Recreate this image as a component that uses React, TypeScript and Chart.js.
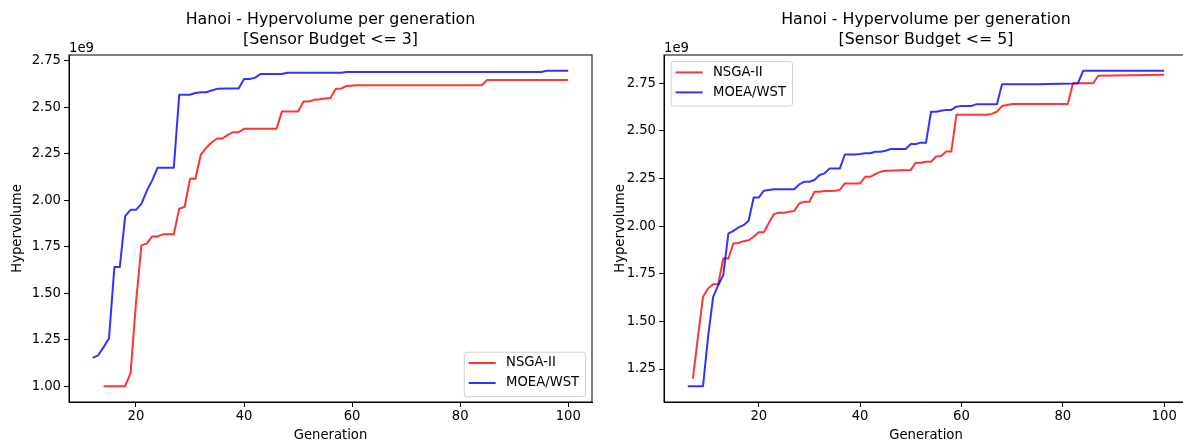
import React, { useEffect, useRef } from 'react';
import { Chart, registerables } from 'chart.js';

Chart.register(...registerables);

const FONT = "'DejaVu Sans', sans-serif";

// ---- Data (hypervolume in units of 1e9) ----
// Sensor Budget <= 3
const b3NsgaGen = [14, 18, 19, 20, 21, 22, 23, 24, 25, 27, 28, 29, 30, 31, 32, 33, 34, 35, 36, 37, 38, 39, 40, 46, 47, 50, 51, 52, 53, 54, 55, 56, 57, 58, 59, 61, 84, 85, 100];
const b3NsgaHv = [1.0, 1.0, 1.072, 1.45, 1.757, 1.766, 1.805, 1.805, 1.816, 1.816, 1.954, 1.963, 2.115, 2.115, 2.245, 2.281, 2.31, 2.331, 2.331, 2.351, 2.365, 2.365, 2.383, 2.383, 2.476, 2.476, 2.53, 2.53, 2.539, 2.542, 2.546, 2.549, 2.598, 2.6, 2.614, 2.617, 2.617, 2.646, 2.646];
const b3MoeaGen = [12, 13, 14, 15, 16, 17, 18, 19, 20, 21, 22, 23, 24, 27, 28, 30, 31, 32, 33, 34, 35, 37, 39, 40, 41, 42, 43, 47, 48, 58, 59, 95, 96, 100];
const b3MoeaHv = [1.152, 1.166, 1.21, 1.256, 1.64, 1.64, 1.914, 1.948, 1.948, 1.98, 2.05, 2.106, 2.174, 2.174, 2.566, 2.566, 2.576, 2.58, 2.58, 2.589, 2.598, 2.6, 2.6, 2.651, 2.651, 2.657, 2.678, 2.678, 2.685, 2.685, 2.689, 2.689, 2.695, 2.695];

// Sensor Budget <= 5
const b5NsgaGen = [7, 8, 9, 10, 11, 12, 13, 14, 15, 16, 17, 18, 19, 20, 21, 22, 23, 24, 25, 26, 27, 28, 29, 30, 31, 32, 33, 34, 35, 36, 37, 40, 41, 42, 43, 44, 45, 50, 51, 52, 53, 54, 55, 56, 57, 58, 59, 65, 66, 67, 68, 69, 70, 81, 82, 86, 87, 100];
const b5NsgaHv = [1.2, 1.42, 1.629, 1.673, 1.695, 1.695, 1.83, 1.83, 1.909, 1.912, 1.921, 1.926, 1.944, 1.968, 1.968, 2.017, 2.063, 2.07, 2.07, 2.075, 2.08, 2.119, 2.128, 2.128, 2.18, 2.18, 2.184, 2.184, 2.186, 2.19, 2.224, 2.224, 2.259, 2.259, 2.273, 2.285, 2.29, 2.295, 2.333, 2.333, 2.338, 2.338, 2.365, 2.368, 2.391, 2.391, 2.584, 2.584, 2.589, 2.601, 2.63, 2.636, 2.641, 2.641, 2.75, 2.75, 2.789, 2.794];
const b5MoeaGen = [6, 9, 10, 11, 12, 13, 14, 15, 16, 17, 18, 19, 20, 21, 22, 23, 27, 28, 29, 30, 31, 32, 33, 34, 36, 37, 39, 40, 41, 42, 43, 44, 45, 46, 49, 50, 51, 52, 53, 54, 55, 56, 57, 58, 59, 60, 62, 63, 67, 68, 75, 82, 83, 84, 100];
const b5MoeaHv = [1.16, 1.16, 1.42, 1.629, 1.69, 1.743, 1.96, 1.975, 1.993, 2.005, 2.028, 2.15, 2.15, 2.186, 2.19, 2.194, 2.194, 2.219, 2.233, 2.233, 2.242, 2.268, 2.277, 2.303, 2.303, 2.376, 2.376, 2.378, 2.382, 2.382, 2.39, 2.39, 2.395, 2.405, 2.405, 2.431, 2.431, 2.438, 2.438, 2.6, 2.6, 2.605, 2.61, 2.61, 2.627, 2.631, 2.631, 2.64, 2.64, 2.745, 2.745, 2.748, 2.75, 2.815, 2.815];

// Ticks
const xTickValues = [20, 40, 60, 80, 100];
const b3YTickValues = [1.0, 1.25, 1.5, 1.75, 2.0, 2.25, 2.5, 2.75];
const b5YTickValues = [1.25, 1.5, 1.75, 2.0, 2.25, 2.5, 2.75];

// Labels
const seriesLabels = ['NSGA-II', 'MOEA/WST'];
const titleLine1 = 'Hanoi - Hypervolume per generation';
const b3TitleLine2 = '[Sensor Budget <= 3]';
const b5TitleLine2 = '[Sensor Budget <= 5]';
const xAxisLabel = 'Generation';
const yAxisLabel = 'Hypervolume';
const offsetLabel = '1e9';

const RED = 'rgba(255,0,0,0.8)';
const BLUE = 'rgba(0,0,255,0.8)';
const FS = 13.2;

const mplPlugin = {
  id: 'mpl',
  afterDraw(chart: any, _args: any, opts: any) {
    const { ctx, chartArea: a } = chart;
    ctx.save();
    // spines
    ctx.strokeStyle = '#000';
    ctx.lineWidth = 1;
    ctx.strokeRect(a.left, a.top, a.right - a.left, a.bottom - a.top);
    // offset text
    ctx.font = `${FS}px ${FONT}`;
    ctx.fillStyle = '#000';
    ctx.textAlign = 'left';
    ctx.textBaseline = 'alphabetic';
    ctx.fillText(offsetLabel, a.left, a.top - 3.3);
    // legend
    const ds = chart.data.datasets;
    const tw = Math.max(...ds.map((d: any) => ctx.measureText(d.label).width));
    const padL = 4.4, handle = 27, gap = 10.4, padR = 6.5;
    const w = padL + handle + gap + tw + padR;
    const h = 44.5;
    let x: number, y: number;
    if (opts.loc === 'lower right') {
      x = a.right - 6.4 - w;
      y = a.bottom - 5.3 - h;
    } else {
      x = a.left + 7.2;
      y = a.top + 6.6;
    }
    const r = 2.6;
    ctx.beginPath();
    ctx.moveTo(x + r, y);
    ctx.lineTo(x + w - r, y);
    ctx.arcTo(x + w, y, x + w, y + r, r);
    ctx.lineTo(x + w, y + h - r);
    ctx.arcTo(x + w, y + h, x + w - r, y + h, r);
    ctx.lineTo(x + r, y + h);
    ctx.arcTo(x, y + h, x, y + h - r, r);
    ctx.lineTo(x, y + r);
    ctx.arcTo(x, y, x + r, y, r);
    ctx.closePath();
    ctx.fillStyle = 'rgba(255,255,255,0.8)';
    ctx.fill();
    ctx.strokeStyle = '#d0d0d0';
    ctx.lineWidth = 1;
    ctx.stroke();
    ds.forEach((d: any, i: number) => {
      const cy = y + 10.8 + i * 20;
      ctx.beginPath();
      ctx.moveTo(x + padL, cy);
      ctx.lineTo(x + padL + handle, cy);
      ctx.strokeStyle = d.borderColor;
      ctx.lineWidth = 2;
      ctx.stroke();
      ctx.fillStyle = '#000';
      ctx.textBaseline = 'middle';
      ctx.fillText(d.label, x + padL + handle + gap, cy);
    });
    ctx.restore();
  },
};

type Props = {
  left: number;
  width: number;
  title2: string;
  nsgaGen: number[];
  nsgaHv: number[];
  moeaGen: number[];
  moeaHv: number[];
  xMin: number;
  xMax: number;
  yMin: number;
  yMax: number;
  yTicks: number[];
  yAxisWidth: number;
  padRight: number;
  yTitlePad: number;
  legendLoc: string;
};

function HvChart(p: Props) {
  const ref = useRef<HTMLCanvasElement>(null);
  useEffect(() => {
    const zeroPad = (s: any) => {
      s.paddingTop = 0;
      s.paddingBottom = 0;
      s.paddingLeft = 0;
      s.paddingRight = 0;
    };
    const tickFont = { family: FONT, size: FS };
    const gridOpts = {
      display: true,
      drawOnChartArea: false,
      drawTicks: true,
      tickLength: 5,
      color: '#000',
      tickColor: '#000',
      lineWidth: 1,
    };
    const chart = new Chart(ref.current as HTMLCanvasElement, {
      type: 'line',
      data: {
        datasets: [
          {
            label: seriesLabels[0],
            data: p.nsgaGen.map((g, i) => ({ x: g, y: p.nsgaHv[i] })),
            borderColor: RED,
            backgroundColor: RED,
            borderWidth: 2,
            pointRadius: 0,
            tension: 0,
            fill: false,
            borderJoinStyle: 'round',
            order: 1,
          },
          {
            label: seriesLabels[1],
            data: p.moeaGen.map((g, i) => ({ x: g, y: p.moeaHv[i] })),
            borderColor: BLUE,
            backgroundColor: BLUE,
            borderWidth: 2,
            pointRadius: 0,
            tension: 0,
            fill: false,
            borderJoinStyle: 'round',
            order: 0,
          },
        ],
      },
      options: {
        responsive: false,
        animation: false,
        devicePixelRatio: 1,
        layout: { padding: { left: 0, right: p.padRight, top: 0, bottom: 0 } },
        plugins: {
          legend: { display: false },
          tooltip: { enabled: false },
          title: {
            display: true,
            fullSize: false,
            text: [titleLine1, p.title2],
            color: '#000',
            font: { family: FONT, size: 15.8, weight: 'normal', lineHeight: 1.25 },
            padding: { top: 10.5, bottom: 5 },
          },
          mpl: { loc: p.legendLoc },
        } as any,
        scales: {
          x: {
            type: 'linear',
            bounds: 'data',
            min: p.xMin,
            max: p.xMax,
            afterBuildTicks: (s: any) => {
              s.ticks = xTickValues.map((v) => ({ value: v }));
            },
            afterFit: (s: any) => {
              s.height = 43;
              zeroPad(s);
            },
            ticks: {
              font: tickFont,
              color: '#000',
              padding: 2,
              maxRotation: 0,
              autoSkip: false,
              callback: (v: any) => String(v),
            },
            grid: gridOpts,
            border: { display: true, color: '#000', width: 1 },
            title: {
              display: true,
              text: xAxisLabel,
              color: '#000',
              font: { family: FONT, size: FS },
              padding: { top: 0, bottom: 2 },
            },
          },
          y: {
            type: 'linear',
            bounds: 'data',
            min: p.yMin,
            max: p.yMax,
            afterBuildTicks: (s: any) => {
              s.ticks = p.yTicks.map((v) => ({ value: v }));
            },
            afterFit: (s: any) => {
              s.width = p.yAxisWidth;
              zeroPad(s);
            },
            ticks: {
              font: tickFont,
              color: '#000',
              padding: 3,
              autoSkip: false,
              callback: (v: any) => Number(v).toFixed(2),
            },
            grid: gridOpts,
            border: { display: true, color: '#000', width: 1 },
            title: {
              display: true,
              text: yAxisLabel,
              color: '#000',
              font: { family: FONT, size: FS },
              padding: { top: p.yTitlePad, bottom: 0 },
            },
          },
        },
      } as any,
      plugins: [mplPlugin],
    });
    return () => chart.destroy();
  }, []);
  return (
    <canvas
      ref={ref}
      width={p.width}
      height={445}
      style={{ position: 'absolute', left: p.left, top: 0, width: p.width, height: 445, display: 'block' }}
    />
  );
}

export default function App() {
  return (
    <div
      style={{
        position: 'fixed',
        left: 0,
        top: 0,
        width: 1183,
        height: 445,
        overflow: 'hidden',
        background: '#fff',
      }}
    >
      <HvChart
        left={0}
        width={600}
        title2={b3TitleLine2}
        nsgaGen={b3NsgaGen}
        nsgaHv={b3NsgaHv}
        moeaGen={b3MoeaGen}
        moeaHv={b3MoeaHv}
        xMin={7.6}
        xMax={104.4}
        yMin={0.915}
        yMax={2.78}
        yTicks={b3YTickValues}
        yAxisWidth={69}
        padRight={8}
        yTitlePad={10}
        legendLoc="lower right"
      />
      <HvChart
        left={600}
        width={600}
        title2={b5TitleLine2}
        nsgaGen={b5NsgaGen}
        nsgaHv={b5NsgaHv}
        moeaGen={b5MoeaGen}
        moeaHv={b5MoeaHv}
        xMin={1.3}
        xMax={104.7}
        yMin={1.077}
        yMax={2.898}
        yTicks={b5YTickValues}
        yAxisWidth={64}
        padRight={12}
        yTitlePad={13}
        legendLoc="upper left"
      />
    </div>
  );
}
